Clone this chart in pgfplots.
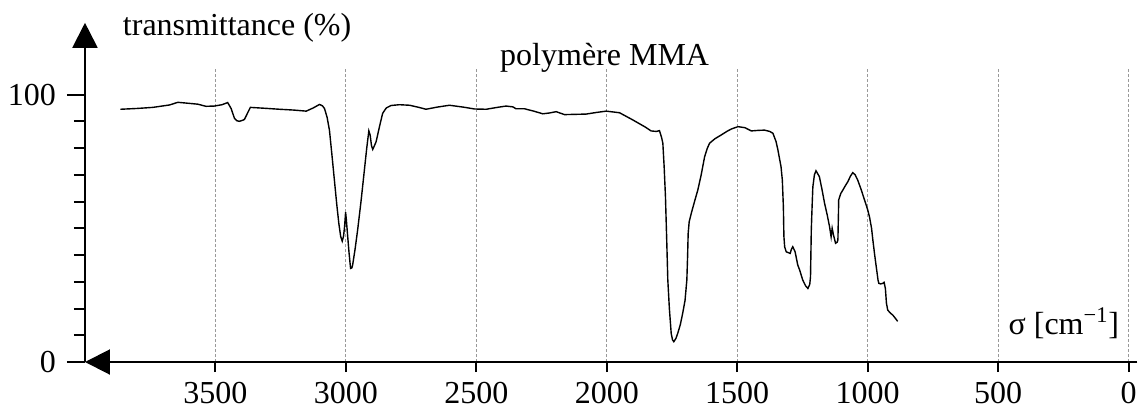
\documentclass[border=0pt]{standalone}
\usepackage{fontspec}
\setmainfont{Liberation Serif}
\usepackage{pgfplots}
\pgfplotsset{compat=1.18}
\usetikzlibrary{arrows.meta}
\begin{document}
\fontsize{16}{19}\selectfont
\begin{tikzpicture}
\useasboundingbox (-42.5pt,-23pt) rectangle (526.5pt,181pt);
\begin{axis}[
  at={(0pt,0pt)}, anchor=south west,
  scale only axis, width=526.2pt, height=147.1pt,
  x dir=reverse,
  xmin=-34, xmax=4000, ymin=0, ymax=110,
  axis lines=left,
  axis line style={line width=1pt},
  x axis line style={-{Triangle[length=12.5pt,width=12.5pt]}},
  y axis line style={-{Triangle[length=12.5pt,width=12.5pt]}, shorten >=-22.5pt},
  tick align=outside,
  major tick length=9pt, minor tick length=5.5pt,
  every tick/.style={black, line width=1pt},
  xtick style={/pgfplots/major tick length=5pt},
  xtick={0,500,1000,1500,2000,2500,3000,3500},
  xticklabels={0,500,1000,1500,2000,2500,3000,3500},
  ytick={0,100}, yticklabels={0,100},
  minor ytick={10,20,30,40,50,60,70,80,90},
  xmajorgrids,
  grid style={gray!80, line width=0.5pt, dash pattern=on 1.5pt off 1pt},
  ticklabel style={font=\fontsize{16}{19}\selectfont},
  xticklabel style={yshift=4.5pt},
  clip=false,
]
\addplot[black, line width=0.7pt] table {
3864 94.5
3800 94.8
3740 95.2
3676 96.1
3644 97.1
3600 96.7
3568 96.4
3536 95.6
3504 95.7
3475 96.2
3453 97.0
3440 94.8
3427 91.1
3418 90.2
3408 90.0
3395 90.4
3389 90.7
3366 95.2
3300 94.8
3255 94.5
3200 94.2
3152 93.8
3125 95.0
3101 96.3
3090 95.8
3082 94.8
3072 91.5
3063 86.7
3054 78
3044 68.0
3035 59
3027 51.8
3020 47
3014 45.2
3009 47
3005 50.6
3001 56.0
2998 53
2995 49.3
2988 41
2982 35.0
2977 35.2
2974 36.3
2965 42
2955 49.3
2942 60
2929 71.8
2920 80
2912 86.4
2907 84.9
2902 81
2897 79.5
2890 81
2884 82.4
2870 88.5
2859 93.0
2845 95.0
2827 95.9
2795 96.2
2756 96.0
2720 95.2
2693 94.5
2650 95.3
2603 96.0
2550 95.3
2507 94.6
2462 94.5
2420 95.2
2386 95.7
2360 95.4
2348 94.7
2316 94.7
2280 93.8
2245 92.8
2220 93.1
2194 93.6
2162 92.5
2120 92.6
2079 92.7
2040 93.3
2002 93.8
1951 93.2
1900 90.5
1855 88.0
1830 86.4
1810 86.2
1798 86.5
1790 84
1785 81.8
1780 73
1775 61.8
1770 45
1766 30.7
1760 20
1753 10.7
1748 8.3
1743 7.6
1735 8.8
1728 10.7
1718 14
1709 18.2
1700 23
1693 30.7
1690 40
1688 48
1684 52.5
1676 55.6
1665 59.5
1651 64.3
1638 70
1625 76.7
1615 79.8
1606 81.8
1585 83.5
1561 84.9
1540 86.2
1523 87.1
1497 88.0
1470 87.6
1446 86.4
1420 86.6
1395 86.7
1375 86.2
1363 85.5
1351 82.4
1344 79.3
1332 73.0
1327 68.0
1323 58
1321 47
1318 43
1312 41.2
1297 40.6
1292 42.2
1287 43.1
1278 41.2
1268 36.3
1261 34.5
1249 30.7
1238 28.5
1229 27.5
1222 29
1219 31.9
1216 49.3
1213 58
1210 65.5
1204 70
1198 71.5
1185 69.3
1175 64.5
1165 59.3
1155 55
1146 50.6
1140 46.8
1136 50.0
1131 47.5
1123 44.4
1117 44.8
1114 45.6
1112 55
1111 60.6
1103 63
1095 64.3
1085 66
1076 67.4
1066 69.5
1057 70.8
1048 70
1038 68.0
1025 64.5
1012 60.6
1000 57
993 54.3
985 50
980 45.6
973 40
967 35.6
960 30.5
957 29.4
950 29.2
942 29.4
937 29.8
932 27.5
928 22
923 19.4
912 18.2
904 17.6
895 16.5
885 15.2
};
\node[anchor=base] at (axis cs:2008,111.0) {polymère MMA};
\node[anchor=base west, inner sep=0pt] at (axis cs:3856,122.2) {transmittance (\%)};
\node[anchor=base east, inner sep=0pt] at (axis cs:34.5,10.1) {σ [cm\textsuperscript{−1}]};
\end{axis}
\end{tikzpicture}
\end{document}
